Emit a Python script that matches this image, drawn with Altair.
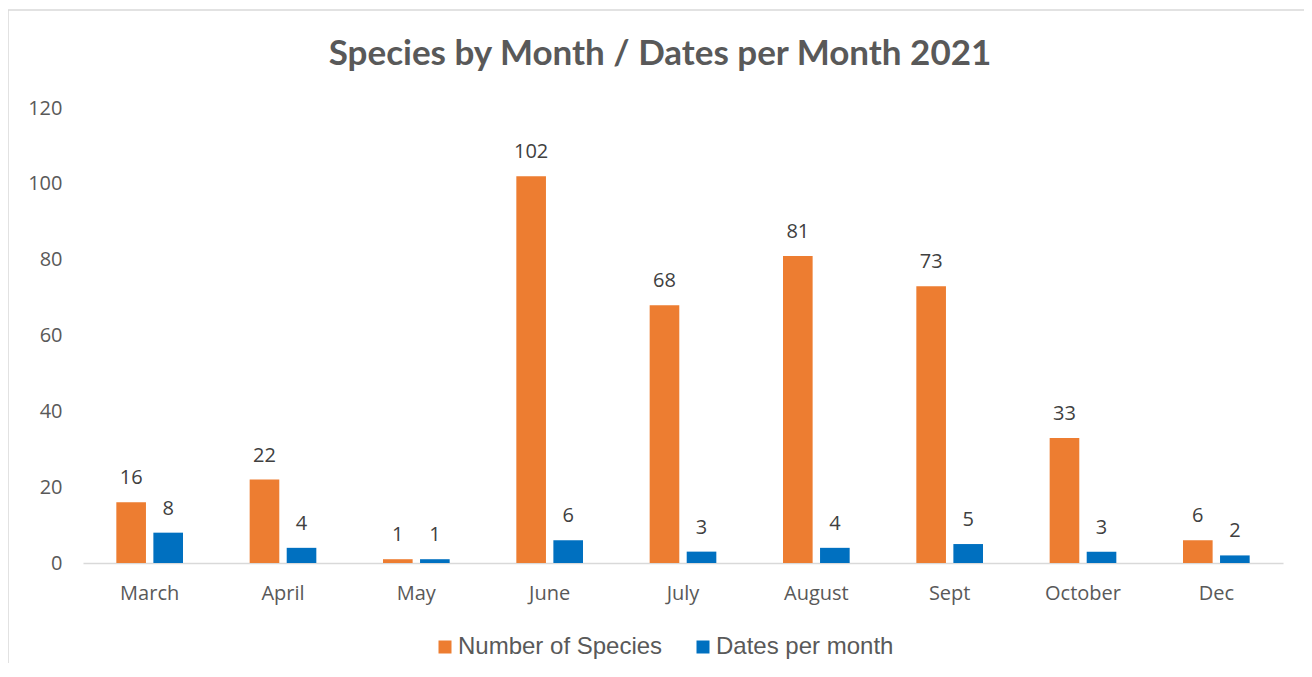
import altair as alt
import pandas as pd

months = ["March", "April", "May", "June", "July", "August", "Sept", "October", "Dec"]
species = [16, 22, 1, 102, 68, 81, 73, 33, 6]
dates = [8, 4, 1, 6, 3, 4, 5, 3, 2]
series_names = ["Number of Species", "Dates per month"]
colors = ["#ED7D31", "#0070C0"]
title_text = "Species by Month / Dates per Month 2021"
y_ticks = [0, 20, 40, 60, 80, 100, 120]

rows = []
for m, s, d in zip(months, species, dates):
    rows.append({"month": m, "series": series_names[0], "value": s})
    rows.append({"month": m, "series": series_names[1], "value": d})
df = pd.DataFrame(rows)

x_enc = alt.X(
    "month:N", sort=months,
    scale=alt.Scale(paddingInner=0.5, paddingOuter=0.25),
    axis=alt.Axis(title=None, labelAngle=0, ticks=False, domainColor="#D9D9D9",
                  domainWidth=1.5, labelPadding=20, labelFont="Open Sans",
                  labelFontSize=20, labelColor="#595959"),
)
xo_enc = alt.XOffset("series:N", sort=series_names, scale=alt.Scale(paddingInner=0.2))
y_enc = alt.Y(
    "value:Q",
    scale=alt.Scale(domain=[0, 120], nice=False),
    axis=alt.Axis(title=None, values=y_ticks, grid=False, domain=False, ticks=False,
                  labelPadding=21, labelFont="Open Sans", labelFontSize=20,
                  labelColor="#595959"),
)
color_enc = alt.Color(
    "series:N", sort=series_names,
    scale=alt.Scale(domain=series_names, range=colors),
    legend=alt.Legend(title=None, orient="none", legendX=350, legendY=527,
                      direction="horizontal", symbolType="square", symbolSize=169,
                      symbolStrokeWidth=0, labelFont="Liberation Sans", labelFontSize=24,
                      labelColor="#595959", labelOffset=1, columnPadding=28,
                      labelLimit=0),
)

border = alt.Chart(pd.DataFrame({"k": [0]})).mark_rect(
    fill=None, stroke="#D9D9D9", strokeWidth=1.5
).encode(
    x=alt.value(-75), x2=alt.value(1227), y=alt.value(-98), y2=alt.value(700)
)

title = alt.Chart(pd.DataFrame({"t": [title_text]})).mark_text(
    font="Lato", fontSize=35, fontWeight="bold", color="#595959",
    align="center", baseline="alphabetic"
).encode(
    x=alt.value(577), y=alt.value(-43), text="t:N"
)

bars = alt.Chart(df).mark_bar().encode(
    x=x_enc, xOffset=xo_enc, y=y_enc, color=color_enc
)

labels = alt.Chart(df).mark_text(
    baseline="alphabetic", dy=-18, font="Open Sans", fontSize=20, color="#404040"
).encode(
    x=alt.X("month:N", sort=months), xOffset=alt.XOffset("series:N", sort=series_names),
    y="value:Q", text="value:Q"
)

chart = alt.layer(border, title, bars, labels).properties(
    width=1200, height=455,
    autosize="none",
    background="white",
    padding={"left": 75, "top": 100, "right": 21, "bottom": 100},
).configure_view(strokeWidth=0, stroke="transparent")

chart.save("out.html", embed_options={"renderer": "svg", "actions": False})
